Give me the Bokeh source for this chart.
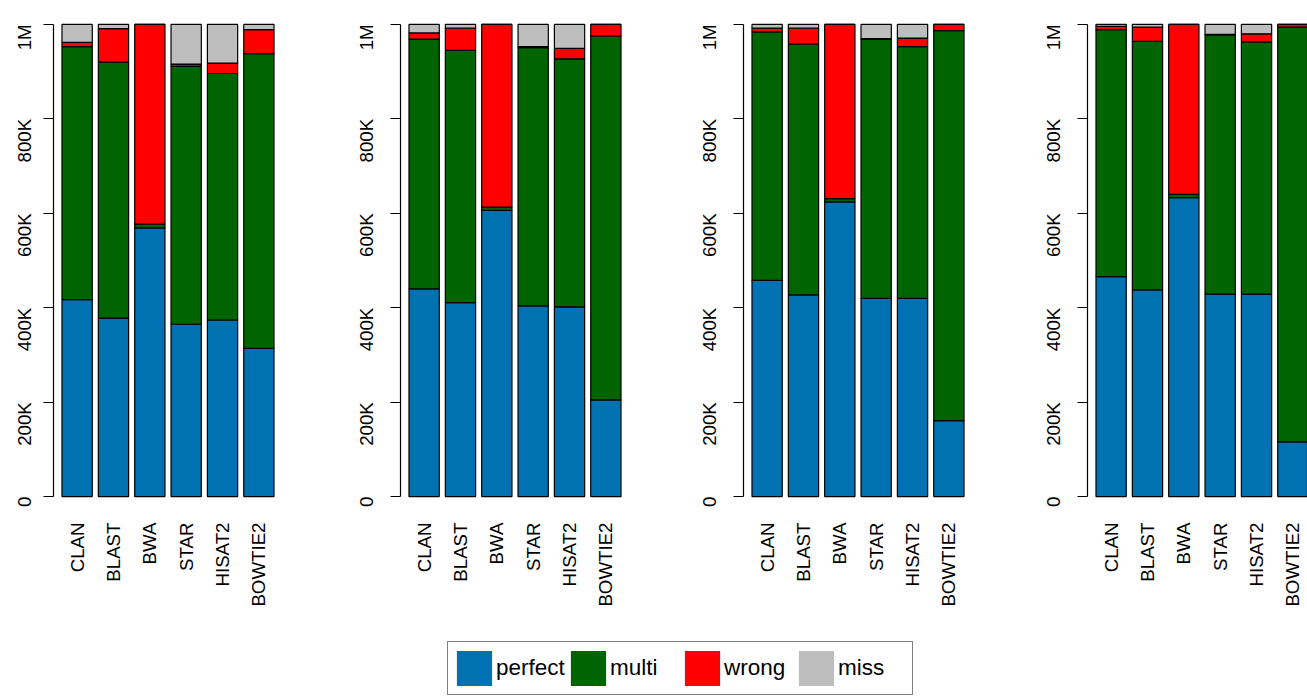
import math
from bokeh.plotting import figure
from bokeh.models import ColumnDataSource, Range1d, FixedTicker, Legend, LegendItem
from bokeh.layouts import row, column
from bokeh.embed import file_html
from bokeh.resources import INLINE

tools = ["CLAN", "BLAST", "BWA", "STAR", "HISAT2", "BOWTIE2"]
classes = ["perfect", "multi", "wrong", "miss"]
colors = ["#0072B2", "#006400", "#FF0000", "#BEBEBE"]

ytick_values = [0, 200000, 400000, 600000, 800000, 1000000]
ytick_labels = ["0", "200K", "400K", "600K", "800K", "1M"]

# panel 1
perfect_1 = [417000, 378000, 569000, 365000, 374000, 314000]
multi_1 = [536000, 542000, 8000, 546000, 522000, 624000]
wrong_1 = [9000, 71000, 423000, 5000, 22000, 51000]
miss_1 = [38000, 9000, 0, 84000, 82000, 11000]
# panel 2
perfect_2 = [440000, 411000, 606000, 404000, 402000, 205000]
multi_2 = [529000, 534000, 7000, 547000, 525000, 770000]
wrong_2 = [13000, 47000, 387000, 2000, 22000, 25000]
miss_2 = [18000, 8000, 0, 47000, 51000, 0]
# panel 3
perfect_3 = [458000, 427000, 624000, 420000, 420000, 161000]
multi_3 = [526000, 531000, 7000, 549000, 533000, 826000]
wrong_3 = [8000, 34000, 369000, 1000, 18000, 13000]
miss_3 = [8000, 8000, 0, 30000, 29000, 0]
# panel 4
perfect_4 = [466000, 438000, 633000, 429000, 429000, 116000]
multi_4 = [523000, 526000, 7000, 549000, 534000, 878000]
wrong_4 = [7000, 30000, 360000, 1000, 17000, 6000]
miss_4 = [4000, 6000, 0, 21000, 20000, 0]

panels = [
    (perfect_1, multi_1, wrong_1, miss_1),
    (perfect_2, multi_2, wrong_2, miss_2),
    (perfect_3, multi_3, wrong_3, miss_3),
    (perfect_4, multi_4, wrong_4, miss_4),
]

FONT = "Liberation Sans"
FULL_FW = 229
X0 = 0.35
X1 = 6.65
PX_PER_UNIT = FULL_FW / (X1 - X0)

frame_widths = [229, 229, 229, 220]
left_borders = [53, 58, 58, 58]
right_borders = [60, 56, 57, 0]
standoffs = [19, 24, 24, 24]

figs = []
for k, (pf, mu, wr, mi) in enumerate(panels):
    xs = list(range(1, len(tools) + 1))
    src = ColumnDataSource(dict(x=xs, perfect=pf, multi=mu, wrong=wr, miss=mi))
    fw = frame_widths[k]
    p = figure(frame_width=fw, frame_height=510,
               x_range=Range1d(X0, X0 + fw / PX_PER_UNIT),
               y_range=Range1d(-40000, 1040000),
               toolbar_location=None, output_backend="svg",
               min_border_left=left_borders[k], min_border_right=right_borders[k],
               min_border_top=5, min_border_bottom=110)
    p.vbar_stack(classes, x="x", width=5 / 6, source=src,
                 fill_color=colors, line_color="black", line_width=1.2)
    p.grid.grid_line_color = None
    p.outline_line_color = None

    ya = p.yaxis[0]
    ya.ticker = FixedTicker(ticks=ytick_values)
    ya.major_label_overrides = {v: l for v, l in zip(ytick_values, ytick_labels)}
    ya.bounds = (0, 1000000)
    ya.axis_line_color = "black"
    ya.axis_line_width = 1.2
    ya.major_tick_line_color = "black"
    ya.major_tick_line_width = 1.2
    ya.major_tick_in = 0
    ya.major_tick_out = 10
    ya.minor_tick_line_color = None
    ya.major_label_orientation = math.pi / 2
    ya.major_label_standoff = standoffs[k]
    ya.major_label_text_font = FONT
    ya.major_label_text_font_size = "18.7px"
    ya.major_label_text_color = "black"

    xa = p.xaxis[0]
    xa.ticker = FixedTicker(ticks=xs)
    xa.major_label_overrides = {x: t for x, t in zip(xs, tools)}
    xa.axis_line_color = None
    xa.major_tick_line_color = None
    xa.minor_tick_line_color = None
    xa.major_tick_in = 0
    xa.major_tick_out = 0
    xa.major_label_orientation = math.pi / 2
    xa.major_label_standoff = 7
    xa.major_label_text_font = FONT
    xa.major_label_text_font_size = "18.7px"
    xa.major_label_text_color = "black"
    figs.append(p)

leg_fig = figure(width=1307, height=72, toolbar_location=None, output_backend="svg",
                 min_border=0, x_range=Range1d(0, 1), y_range=Range1d(0, 1))
leg_fig.axis.visible = False
leg_fig.grid.grid_line_color = None
leg_fig.outline_line_color = None
items = []
for name, c in zip(classes, colors):
    # zero-size placeholder glyph: only its legend swatch is shown
    r = leg_fig.rect(x=[0.5], y=[0.5], width=0, height=0, fill_color=c, line_color=None)
    items.append(LegendItem(label=name, renderers=[r]))
legend = Legend(items=items, orientation="horizontal", location=(447, 2),
                glyph_width=44, glyph_height=44, label_standoff=0, label_width=70,
                spacing=0, padding=4, margin=0,
                border_line_color="black", border_line_width=1.5,
                label_text_font=FONT, label_text_font_size="22.5px",
                label_text_color="black", background_fill_alpha=1)
leg_fig.add_layout(legend)

layout = column(row(*figs), leg_fig)
open("out.html", "w").write(file_html(layout, INLINE))
